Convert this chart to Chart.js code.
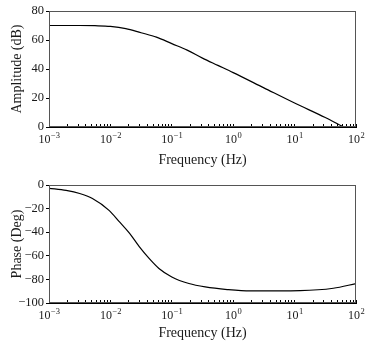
<!DOCTYPE html>
<html lang="en">
<head>
  <meta charset="UTF-8">
  <title>Bode Plot</title>
  <script src="https://cdn.jsdelivr.net/npm/chart.js"></script>
  <style>
    body { margin: 0; background: #fff; }
    canvas { display: block; }
  </style>
</head>
<body>
  <canvas id="ampChart" width="367" height="172"></canvas>
  <canvas id="phaseChart" width="367" height="173"></canvas>

  <script>
    // values
    var ampFreq = [0.001, 0.00316, 0.0056, 0.01, 0.0178, 0.0316, 0.0562, 0.1, 0.178, 0.316, 0.562, 1, 3.16, 10, 31.6, 63, 71];
    var ampDb   = [70, 70, 69.85, 69.4, 67.9, 65, 62, 57.5, 53, 47.5, 42.5, 37.5, 27, 16.5, 6.5, 0, -1];

    var phaseFreq = [0.001, 0.0019, 0.00316, 0.0051, 0.0095, 0.0138, 0.0204, 0.0295, 0.0427, 0.0617, 0.1, 0.19, 0.35, 0.8, 1.9, 12.3, 42.7, 100];
    var phaseDeg  = [-2.8, -4.6, -7.2, -11.5, -21.5, -30.8, -40.8, -52.2, -62.2, -70.7, -77.9, -83.5, -86.4, -88.6, -89.8, -89.5, -87.5, -83.5];

    var freqTicks = [];
    [0.001, 0.01, 0.1, 1, 10].forEach(function (d) {
      for (var k = 1; k < 10; k++) freqTicks.push(+(d * k).toPrecision(3));
    });
    freqTicks.push(100);
    var ampTicks = [0, 20, 40, 60, 80];
    var phaseTicks = [-100, -80, -60, -40, -20, 0];

    var serif = 'Liberation Serif';
    var ink = '#1a1a1a';

    function decadeExp(v) {
      var e = Math.log10(v);
      return Math.abs(e - Math.round(e)) < 1e-6 ? Math.round(e) : null;
    }

    // box around plot area + "10^n" labels under the decade ticks
    var boxPlugin = {
      id: 'box',
      afterDraw: function (chart) {
        var a = chart.chartArea, c = chart.ctx, sx = chart.scales.x;
        c.save();
        c.strokeStyle = '#555';
        c.lineWidth = 1;
        c.strokeRect(Math.round(a.left) + 0.5, Math.round(a.top) + 0.5,
                     Math.round(a.right - a.left) - 1, Math.round(a.bottom - a.top) - 1);

        c.fillStyle = ink;
        c.textBaseline = 'alphabetic';
        c.textAlign = 'left';
        var base = sx.top + 16;
        freqTicks.forEach(function (v) {
          var e = decadeExp(v);
          if (e === null) return;
          var ex = e < 0 ? '\u2212' + Math.abs(e) : String(e);
          c.font = '12px "' + serif + '"';
          var w1 = c.measureText('10').width;
          c.font = '8.5px "' + serif + '"';
          var w2 = c.measureText(ex).width;
          var x0 = sx.getPixelForValue(v) - (w1 + w2) / 2;
          c.font = '12px "' + serif + '"';
          c.fillText('10', x0, base);
          c.font = '8.5px "' + serif + '"';
          c.fillText(ex, x0 + w1 + 0.5, base - 5);
        });
        c.restore();
      }
    };

    function makeChart(id, xs, ys, yTicks, yTitle, top, xHeight) {
      var pts = xs.map(function (x, i) { return { x: x, y: ys[i] }; });
      return new Chart(document.getElementById(id).getContext('2d'), {
        type: 'line',
        data: {
          datasets: [{
            data: pts,
            borderColor: '#000',
            borderWidth: 1.2,
            pointRadius: 0,
            tension: 0.4,
            cubicInterpolationMode: 'monotone'
          }]
        },
        options: {
          responsive: false,
          animation: false,
          layout: { padding: { top: top, right: 11, left: 0, bottom: 0 } },
          plugins: { legend: { display: false }, tooltip: { enabled: false } },
          scales: {
            x: {
              type: 'logarithmic',
              min: 0.001,
              max: 100,
              afterBuildTicks: function (s) {
                s.ticks = freqTicks.map(function (v) { return { value: v }; });
              },
              afterFit: function (s) { s.height = xHeight; s.paddingLeft = 0; s.paddingRight = 0; },
              border: { color: '#000', width: 1 },
              grid: { drawOnChartArea: false, tickLength: -3, color: '#000' },
              ticks: {
                autoSkip: false,
                maxRotation: 0,
                padding: 10,
                callback: function () { return ''; }
              },
              title: {
                display: true,
                text: 'Frequency (Hz)',
                color: ink,
                font: { family: serif, size: 14 },
                padding: { top: 0, bottom: 3 }
              }
            },
            y: {
              min: yTicks[0],
              max: yTicks[yTicks.length - 1],
              afterBuildTicks: function (s) {
                s.ticks = yTicks.map(function (v) { return { value: v }; });
              },
              afterFit: function (s) { s.width = 49; },
              border: { color: '#000', width: 1 },
              grid: { drawOnChartArea: false, tickLength: 3, color: '#000' },
              ticks: {
                padding: 2,
                color: ink,
                font: { family: serif, size: 12.5 },
                callback: function (v) { return v < 0 ? '\u2212' + Math.abs(v) : String(v); }
              },
              title: {
                display: true,
                text: yTitle,
                color: ink,
                font: { family: serif, size: 14 },
                padding: { top: 9, bottom: 0 }
              }
            }
          }
        },
        plugins: [boxPlugin]
      });
    }

    makeChart('ampChart', ampFreq, ampDb, ampTicks, 'Amplitude (dB)', 11, 45);
    makeChart('phaseChart', phaseFreq, phaseDeg, phaseTicks, 'Phase (Deg)', 13, 42);
  </script>
</body>
</html>
